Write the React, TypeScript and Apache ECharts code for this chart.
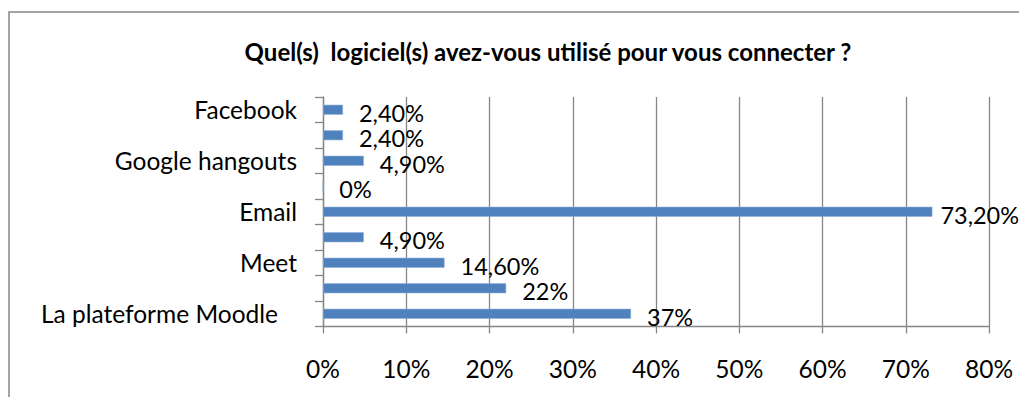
import React, { useEffect, useRef } from "react";
import * as echarts from "echarts";

const titleText = "Quel(s)  logiciel(s) avez-vous utilisé pour vous connecter ?";
// top to bottom; unlabelled rows are skipped by the axis label interval
const categories = [
  "Facebook",
  "Autre 1",
  "Google hangouts",
  "Autre 2",
  "Email",
  "Autre 3",
  "Meet",
  "Autre 4",
  "La plateforme Moodle",
];
const values = [2.4, 2.4, 4.9, 0, 73.2, 4.9, 14.6, 22, 37];
const valueLabels = ["2,40%", "2,40%", "4,90%", "0%", "73,20%", "4,90%", "14,60%", "22%", "37%"];
const xTicks = [0, 10, 20, 30, 40, 50, 60, 70, 80];

const FONT = "Lato, 'Open Sans', sans-serif";
const GRAY = "#868686";
const FS = 24.5;

export default function App() {
  const ref = useRef<HTMLDivElement>(null);
  useEffect(() => {
    if (!ref.current) return;
    const chart = echarts.init(ref.current, undefined, { renderer: "svg" });
    const maxIdx = values.indexOf(Math.max(...values));
    chart.setOption({
      animation: false,
      backgroundColor: "#ffffff",
      textStyle: { fontFamily: FONT },
      title: {
        text: titleText,
        left: 543,
        top: 34,
        textAlign: "center",
        textStyle: { fontFamily: FONT, fontWeight: "bold", fontSize: 24, color: "#000" },
      },
      graphic: [
        {
          type: "rect",
          shape: { x: 9, y: 12, width: 1040, height: 420 },
          style: { fill: "none", stroke: GRAY, lineWidth: 1.5 },
          silent: true,
          z: -1,
        },
      ],
      grid: { left: 323, right: 38, top: 97, bottom: 78.5 },
      xAxis: {
        type: "value",
        min: xTicks[0],
        max: xTicks[xTicks.length - 1],
        interval: 10,
        axisLine: { show: true, lineStyle: { color: GRAY, width: 1.3 } },
        axisTick: { show: true, length: 7, lineStyle: { color: GRAY, width: 1.3 } },
        splitLine: { show: true, lineStyle: { color: GRAY, width: 1.3 } },
        axisLabel: {
          formatter: (v: number) => `${v}%`,
          fontFamily: FONT,
          fontSize: FS,
          color: "#000",
          margin: 29,
        },
      },
      yAxis: {
        type: "category",
        data: categories,
        inverse: true,
        axisLine: { show: true, lineStyle: { color: GRAY, width: 1.3 } },
        axisTick: { show: true, interval: 0, length: 8, lineStyle: { color: GRAY, width: 1.3 } },
        axisLabel: {
          interval: 1,
          fontFamily: FONT,
          fontSize: FS,
          color: "#000",
          margin: 26,
          formatter: (v: string) => (v === "La plateforme Moodle" ? `{p|${v}}` : v),
          rich: {
            p: { fontFamily: FONT, fontSize: FS, color: "#000", padding: [0, 19, 0, 0] },
          },
        },
      },
      series: [
        {
          type: "bar",
          data: values.map((v, i) => (i === maxIdx ? { value: v, label: { distance: 8 } } : v)),
          barWidth: 10,
          itemStyle: { color: "#4F81BD", borderColor: "#8EAEDB", borderWidth: 0.6 },
          label: {
            show: true,
            position: "right",
            distance: 16,
            offset: [0, 3],
            fontFamily: FONT,
            fontSize: 23.5,
            lineHeight: 24,
            color: "#000",
            formatter: (p: any) => valueLabels[p.dataIndex],
          },
        },
      ],
    });
    return () => chart.dispose();
  }, []);
  return <div ref={ref} style={{ width: 1027, height: 405, margin: -8 }} />;
}
